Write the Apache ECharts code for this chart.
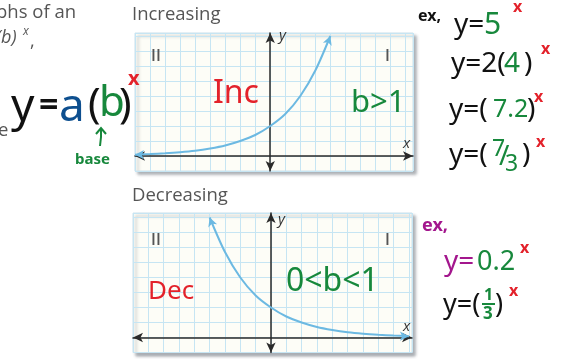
<!DOCTYPE html>
<html>
<head>
<meta charset="utf-8">
<script src="https://cdn.jsdelivr.net/npm/echarts@6/dist/echarts.min.js"></script>
<style>
  html, body { margin: 0; padding: 0; background: #ffffff; }
  #chart { width: 567px; height: 359px; }
</style>
</head>
<body>
<div id="chart"></div>
<script>
// Increasing exponential: points along the curve (x in grid units, y in grid units)
const incX = [-9, -8, -7, -6, -5, -4, -3, -2, -1, 0, 1, 2, 3, 4];
const incY = [0.09, 0.13, 0.18, 0.25, 0.35, 0.5, 0.7, 1.0, 1.4, 2, 2.8, 4, 5.7, 8];

// Decreasing exponential
const decX = [-4, -3, -2, -1, 0, 1, 2, 3, 4, 5, 6, 7, 8, 9];
const decY = [8, 5.7, 4, 2.8, 2, 1.4, 1.0, 0.7, 0.5, 0.35, 0.25, 0.18, 0.13, 0.09];

// Visible window of each coordinate plane
const incXRange = [-9, 9.5];
const incYRange = [-1, 8.2];
const decXRange = [-9, 9.2];
const decYRange = [-1, 8.3];

// Panel titles and quadrant labels
const panelTitles = ['Increasing', 'Decreasing'];
const quadrantLabels = ['II', 'I'];

const CURVE = '#6cb9e2';
const RED = '#e3222b';
const GREEN = '#17883c';
const BLUE = '#0d4f8f';
const PURPLE = '#a3168d';
const INK = '#111111';
const PRINT = '#555555';
const HAND = '"Noto Sans", sans-serif';
const PRINTFONT = '"Open Sans", sans-serif';

// Line data with arrowheads on both ends of the curve
function curveData(xs, ys, rotStart, rotEnd) {
  return xs.map((x, i) => {
    const item = { value: [x, ys[i]] };
    if (i === 0 || i === xs.length - 1) {
      item.symbol = 'arrow';
      item.symbolSize = [7, 9];
      item.symbolRotate = i === 0 ? rotStart : rotEnd;
    } else {
      item.symbol = 'none';
    }
    return item;
  });
}

function gridBox(left, top, width, height) {
  return {
    left, top, width, height, show: true,
    backgroundColor: '#fdfdf7',
    borderColor: '#cfe3ec', borderWidth: 1,
    shadowColor: 'rgba(70,80,90,0.45)', shadowBlur: 3,
    shadowOffsetX: 3, shadowOffsetY: 3
  };
}

function axis(gridIndex, range) {
  return {
    gridIndex, type: 'value', min: range[0], max: range[1], interval: 1,
    axisLine: {
      onZero: true,
      symbol: ['arrow', 'arrow'], symbolSize: [7, 10],
      lineStyle: { color: '#2a2a2a', width: 1.5 }
    },
    axisTick: { show: false },
    axisLabel: { show: false },
    splitLine: { show: true, lineStyle: { color: '#c6e5f3', width: 1 } }
  };
}

function txt(text, x, y, size, color, opts) {
  opts = opts || {};
  const weight = opts.weight || 'normal';
  const fstyle = opts.italic ? 'italic' : 'normal';
  const family = opts.family || HAND;
  return {
    type: 'text', z: 100, silent: true,
    style: {
      text, x, y, fill: color,
      font: fstyle + ' ' + weight + ' ' + size + 'px ' + family,
      align: opts.align || 'left', verticalAlign: 'middle',
      textAlign: opts.align || 'left', textVerticalAlign: 'middle'
    }
  };
}

const graphics = [
  // printed page text
  txt('phs of an', -4, 13, 18.5, PRINT, { family: PRINTFONT }),
  txt('(b)', -4, 38, 18, PRINT, { family: PRINTFONT, italic: true }),
  txt('x', 23, 32, 12, PRINT, { family: PRINTFONT, italic: true }),
  txt(',', 30, 42, 18, PRINT, { family: PRINTFONT }),
  txt('e', -2, 131, 18.5, PRINT, { family: PRINTFONT }),
  txt(panelTitles[0], 132, 15, 18.5, PRINT, { family: PRINTFONT }),
  txt(panelTitles[1], 132, 196, 18.5, PRINT, { family: PRINTFONT }),
  txt(quadrantLabels[0], 151, 56, 16, '#555', { family: PRINTFONT, weight: 600 }),
  txt(quadrantLabels[1], 385, 56, 16, '#555', { family: PRINTFONT, weight: 600 }),
  txt(quadrantLabels[0], 151, 240, 16, '#555', { family: PRINTFONT, weight: 600 }),
  txt(quadrantLabels[1], 385, 240, 16, '#555', { family: PRINTFONT, weight: 600 }),
  txt('y', 279, 36, 15, '#333', { family: PRINTFONT, italic: true }),
  txt('y', 278, 220, 15, '#333', { family: PRINTFONT, italic: true }),
  txt('x', 403, 144, 15, '#333', { family: PRINTFONT, italic: true }),
  txt('x', 403, 327, 15, '#333', { family: PRINTFONT, italic: true }),

  // general form y = a(b)^x
  txt('y', 11, 108, 46, INK),
  txt('=', 39, 106, 34, INK, { weight: 'bold' }),
  txt('a', 59, 108, 46, BLUE),
  txt('(', 88, 106, 42, INK),
  txt('b', 99, 104, 42, GREEN),
  txt(')', 119, 106, 42, INK),
  txt('x', 128, 79, 20, RED, { weight: 'bold' }),
  txt('base', 75, 160, 15, GREEN, { weight: 'bold' }),
  {
    type: 'polyline', z: 100, silent: true,
    shape: { points: [[100, 146], [101, 137], [101, 129]] },
    style: { stroke: GREEN, lineWidth: 2, fill: null }
  },
  {
    type: 'polyline', z: 100, silent: true,
    shape: { points: [[96, 134], [101, 128], [106, 134]] },
    style: { stroke: GREEN, lineWidth: 2, fill: null }
  },

  // notes on the planes
  txt('Inc', 213, 94, 32, RED),
  txt('b>1', 351, 103, 31, GREEN),
  txt('Dec', 148, 292, 26, RED),
  txt('0<b<1', 286, 282, 32, GREEN),

  // examples, growth
  txt('ex,', 418, 16, 16, INK, { weight: 'bold' }),
  txt('y=', 454, 25, 28, INK),
  txt('5', 484, 25, 30, GREEN),
  txt('x', 513, 7, 16, RED, { weight: 'bold' }),

  txt('y=2(', 451, 64, 28, INK),
  txt('4', 504, 64, 28, GREEN),
  txt(')', 524, 64, 28, INK),
  txt('x', 541, 49, 16, RED, { weight: 'bold' }),

  txt('y=(', 449, 110, 28, INK),
  txt('7.2', 493, 110, 25, GREEN),
  txt(')', 527, 110, 28, INK),
  txt('x', 534, 97, 16, RED, { weight: 'bold' }),

  txt('y=(', 449, 155, 28, INK),
  txt('7', 492, 149, 23, GREEN),
  txt('/', 499, 157, 28, GREEN),
  txt('3', 505, 164, 23, GREEN),
  txt(')', 522, 155, 28, INK),
  txt('x', 536, 142, 16, RED, { weight: 'bold' }),

  // examples, decay
  txt('ex,', 422, 226, 18, PURPLE, { weight: 'bold' }),
  txt('y=', 444, 262, 28, PURPLE),
  txt('0.2', 477, 262, 27, GREEN),
  txt('x', 520, 248, 16, RED, { weight: 'bold' }),

  txt('y=(', 443, 305, 27, INK),
  txt('1', 484, 295, 16, GREEN, { weight: 'bold' }),
  {
    type: 'line', z: 100, silent: true,
    shape: { x1: 482, y1: 304, x2: 495, y2: 304 },
    style: { stroke: GREEN, lineWidth: 2 }
  },
  txt('3', 483, 314, 17, GREEN, { weight: 'bold' }),
  txt(')', 495, 305, 27, INK),
  txt('x', 509, 291, 16, RED, { weight: 'bold' })
];

const chart = echarts.init(document.getElementById('chart'), null, { renderer: 'canvas' });

chart.setOption({
  animation: false,
  backgroundColor: '#ffffff',
  grid: [
    gridBox(135, 33, 278, 138),
    gridBox(133, 213, 279, 139.5)
  ],
  xAxis: [axis(0, incXRange), axis(1, decXRange)],
  yAxis: [axis(0, incYRange), axis(1, decYRange)],
  series: [
    {
      type: 'line', xAxisIndex: 0, yAxisIndex: 0, z: 5,
      data: curveData(incX, incY, 90, -20),
      smooth: 0.3, showSymbol: true, silent: true,
      lineStyle: { color: CURVE, width: 2 },
      itemStyle: { color: CURVE }
    },
    {
      type: 'line', xAxisIndex: 1, yAxisIndex: 1, z: 5,
      data: curveData(decX, decY, 20, -90),
      smooth: 0.3, showSymbol: true, silent: true,
      lineStyle: { color: CURVE, width: 2 },
      itemStyle: { color: CURVE }
    }
  ],
  graphic: graphics
});
</script>
</body>
</html>
